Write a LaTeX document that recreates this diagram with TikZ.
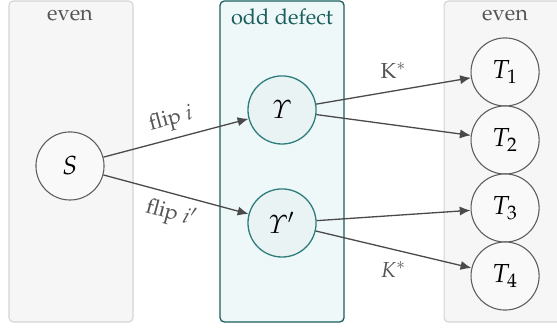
\documentclass[tikz,border=0pt]{standalone}
\usepackage[T1]{fontenc}
\usepackage{mathpazo}
\usepackage{xcolor}
\usepackage{tikz}
\usetikzlibrary{positioning,calc,arrows.meta}

% curly italic Upsilon
\DeclareSymbolFont{cmletters}{OML}{cmm}{m}{it}
\DeclareMathSymbol{\curlyUpsilon}{\mathord}{cmletters}{"07}

\definecolor{paneledge}{HTML}{D4D4D4}
\definecolor{panelfill}{HTML}{F6F6F6}
\definecolor{defectedge}{HTML}{1B5E5E}
\definecolor{defectfill}{HTML}{EFF8F8}
\definecolor{defectnodefill}{HTML}{EAF3F3}
\definecolor{defectnodeedge}{HTML}{2E7D7D}
\definecolor{nodeedge}{HTML}{5E5E5E}
\definecolor{nodefill}{HTML}{F9F9F9}
\definecolor{flowgray}{HTML}{4A4A4A}
\definecolor{labelgray}{HTML}{555555}

\tikzset{
    evenpanel/.style={draw=paneledge, fill=panelfill, rounded corners=2pt, line width=0.5pt},
    defectpanel/.style={draw=defectedge, fill=defectfill, rounded corners=2pt, line width=0.6pt},
    evennode/.style={circle, draw=nodeedge, fill=nodefill, line width=0.5pt, minimum size=1.1cm, inner sep=0pt, font=\large},
    defectnode/.style={circle, draw=defectnodeedge, fill=defectnodefill, line width=0.6pt, minimum size=1.1cm, inner sep=0pt, font=\large},
    flow/.style={draw=flowgray, line width=0.6pt, -{Latex[length=5pt,width=4.2pt]}},
    flowlabel/.style={text=labelgray}
}

\begin{document}
\begin{tikzpicture}
    \useasboundingbox (0,0) rectangle (9,5.284);

    % panels
    \draw[evenpanel] (0.145,0.081) rectangle (2.149,5.268);
    \draw[defectpanel] (3.555,0.081) rectangle (5.559,5.268);
    \draw[evenpanel] (7.175,0.081) rectangle (9.3,5.268);
    \node[text=labelgray] (evenL) at (1.131,5.042) {even};
    \node[text=defectedge] (oddM) at (4.557,5.01) {odd defect};
    \node[text=labelgray] (evenR) at (8.161,5.042) {even};

    % states
    \node[evennode] (S) at (1.131,2.602) {$S$};
    \node[defectnode] (Y) at (4.557,3.507) {$\curlyUpsilon$};
    \node[defectnode] (Yp) at (4.557,1.681) {$\curlyUpsilon'$};
    \foreach \i/\y in {1/4.121, 2/3.022, 3/1.923, 4/0.824}
        \node[evennode] (T\i) at (8.161,\y) {$T_\i$};

    % flips
    \draw[flow] (S) -- (Y) node[midway, above, sloped, flowlabel] {flip $i$};
    \draw[flow] (S) -- (Yp) node[midway, below, sloped, flowlabel] {flip $i'$};
    \draw[flow] (Y) -- (T1) node[midway, above=2pt, flowlabel] {$\mathrm{K}^*$};
    \draw[flow] (Y) -- (T2);
    \draw[flow] (Yp) -- (T3);
    \draw[flow] (Yp) -- (T4) node[midway, below=2pt, flowlabel] {$K^*$};
\end{tikzpicture}
\end{document}
